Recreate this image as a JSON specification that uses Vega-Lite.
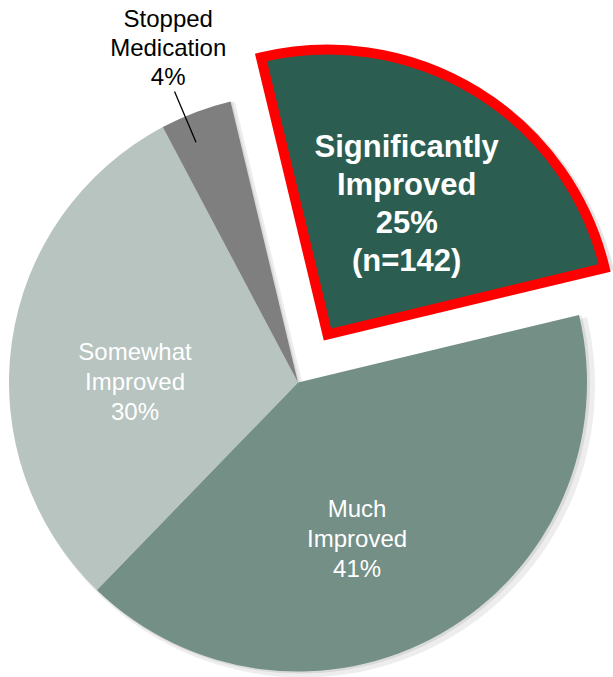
{
  "$schema": "https://vega.github.io/schema/vega-lite/v6.json",
  "width": 596,
  "height": 589,
  "autosize": {"type": "none"},
  "padding": {"top": 88, "left": 0, "right": 17, "bottom": 0},
  "background": "white",
  "config": {"view": {"stroke": null}, "font": "Liberation Sans"},
  "data": {
    "values": [
      {"category": "Significantly Improved", "pct": 25, "order": 1, "label": "Significantly\nImproved\n25%\n(n=142)"},
      {"category": "Much Improved", "pct": 41, "order": 2, "label": "Much\nImproved\n41%"},
      {"category": "Somewhat Improved", "pct": 30, "order": 3, "label": "Somewhat\nImproved\n30%"},
      {"category": "Stopped Medication", "pct": 4, "order": 4, "label": "Stopped\nMedication\n4%"}
    ]
  },
  "transform": [
    {"stack": "pct", "groupby": [], "sort": [{"field": "order", "order": "ascending"}], "as": ["p0", "p1"]}
  ],
  "encoding": {
    "theta": {"field": "p0", "type": "quantitative", "scale": {"domain": [0, 100], "range": [-0.2356, 6.0476]}}
  },
  "layer": [
    {
      "mark": {"type": "arc", "radius": 292, "xOffset": 5, "yOffset": 3, "fill": "#000000"},
      "encoding": {
        "theta2": {"field": "p1"},
        "fillOpacity": {"condition": {"test": "datum.category === 'Significantly Improved'", "value": 0}, "value": 0.07}
      }
    },
    {
      "mark": {"type": "arc", "radius": 290, "xOffset": 2, "yOffset": 1, "fill": "#000000"},
      "encoding": {
        "theta2": {"field": "p1"},
        "fillOpacity": {"condition": {"test": "datum.category === 'Significantly Improved'", "value": 0}, "value": 0.08}
      }
    },
    {
      "mark": {"type": "arc", "radius": 290, "xOffset": 34, "yOffset": -45, "fill": "#000000"},
      "encoding": {
        "theta2": {"field": "p1"},
        "fillOpacity": {"condition": {"test": "datum.category === 'Significantly Improved'", "value": 0.1}, "value": 0}
      }
    },
    {
      "mark": {"type": "arc", "radius": 289},
      "encoding": {
        "theta2": {"field": "p1"},
        "color": {
          "field": "category", "type": "nominal", "legend": null,
          "scale": {
            "domain": ["Significantly Improved", "Much Improved", "Somewhat Improved", "Stopped Medication"],
            "range": ["#2b5e50", "#738f86", "#b7c4c0", "#7f7f7f"]
          }
        },
        "fillOpacity": {"condition": {"test": "datum.category === 'Significantly Improved'", "value": 0}, "value": 1}
      }
    },
    {
      "mark": {"type": "arc", "radius": 285, "xOffset": 29.5, "yOffset": -48, "stroke": "#ff0000", "strokeWidth": 10, "strokeJoin": "miter"},
      "encoding": {
        "theta2": {"field": "p1"},
        "color": {
          "field": "category", "type": "nominal", "legend": null,
          "scale": {
            "domain": ["Significantly Improved", "Much Improved", "Somewhat Improved", "Stopped Medication"],
            "range": ["#2b5e50", "#738f86", "#b7c4c0", "#7f7f7f"]
          }
        },
        "opacity": {"condition": {"test": "datum.category === 'Significantly Improved'", "value": 1}, "value": 0}
      }
    },
    {
      "mark": {"type": "arc", "radius": 316, "radius2": 261, "thetaOffset": 0.0855, "theta2Offset": 0.0855, "fill": null, "stroke": "#000000", "strokeWidth": 1.3},
      "encoding": {
        "theta2": {"field": "p0"},
        "strokeOpacity": {"condition": {"test": "datum.category === 'Stopped Medication'", "value": 1}, "value": 0}
      }
    },
    {
      "mark": {"type": "text", "radius": 152, "thetaOffset": 0.7836, "xOffset": 29.5, "yOffset": -48, "dy": -57, "fontSize": 31, "fontWeight": "bold", "lineHeight": 38, "lineBreak": "\n", "align": "center", "baseline": "middle", "fill": "#ffffff"},
      "encoding": {
        "text": {"field": "label"},
        "opacity": {"condition": {"test": "datum.category === 'Significantly Improved'", "value": 1}, "value": 0}
      }
    },
    {
      "mark": {"type": "text", "radius": 168, "thetaOffset": 1.447, "dy": -30, "fontSize": 24, "lineHeight": 30, "lineBreak": "\n", "align": "center", "baseline": "middle", "fill": "#ffffff"},
      "encoding": {
        "text": {"field": "label"},
        "opacity": {"condition": {"test": "datum.category === 'Much Improved'", "value": 1}, "value": 0}
      }
    },
    {
      "mark": {"type": "text", "radius": 163, "thetaOffset": 0.801, "dy": -30, "fontSize": 24, "lineHeight": 30, "lineBreak": "\n", "align": "center", "baseline": "middle", "fill": "#ffffff"},
      "encoding": {
        "text": {"field": "label"},
        "opacity": {"condition": {"test": "datum.category === 'Somewhat Improved'", "value": 1}, "value": 0}
      }
    },
    {
      "mark": {"type": "text", "radius": 359, "thetaOffset": 0.117, "dy": -28, "fontSize": 24, "lineHeight": 29, "lineBreak": "\n", "align": "center", "baseline": "middle", "fill": "#000000"},
      "encoding": {
        "text": {"field": "label"},
        "opacity": {"condition": {"test": "datum.category === 'Stopped Medication'", "value": 1}, "value": 0}
      }
    }
  ]
}
